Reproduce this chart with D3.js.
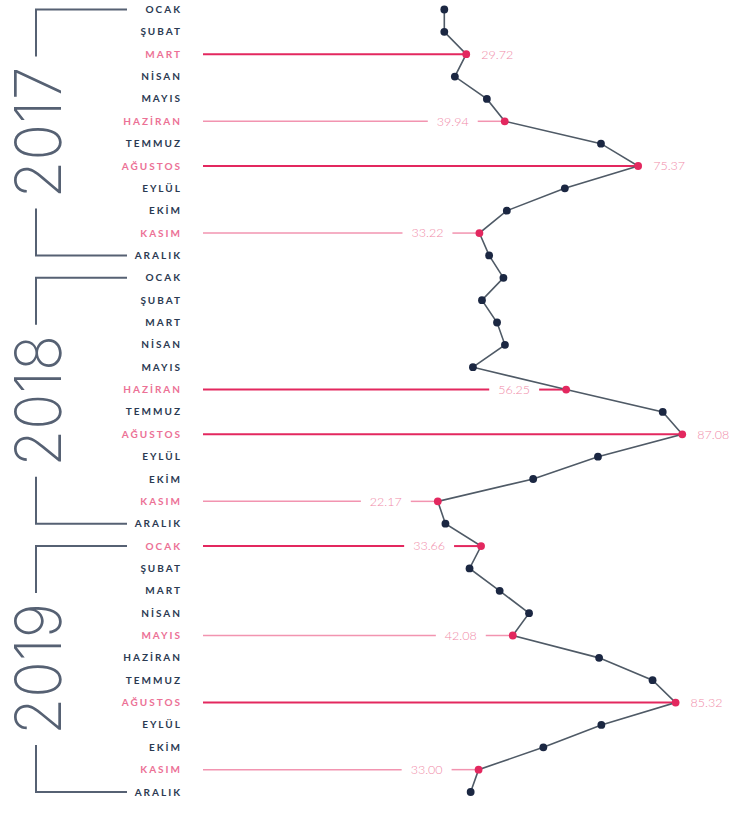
<!DOCTYPE html>
<html><head><meta charset="utf-8">
<script src="https://cdn.jsdelivr.net/npm/d3@7"></script>
<style>
html,body{margin:0;padding:0;background:#fff;}
svg{display:block;}
</style>
</head><body>
<svg id="chart" width="732" height="821"></svg>
<script>
const months = ["OCAK","ŞUBAT","MART","NİSAN","MAYIS","HAZİRAN","TEMMUZ","AĞUSTOS","EYLÜL","EKİM","KASIM","ARALIK"];
const years = ["2017","2018","2019"];
const values2017 = [23.9, 23.9, 29.72, 26.7, 35.2, 39.94, 65.5, 75.37, 55.9, 40.5, 33.22, 35.8];
const values2018 = [39.6, 33.9, 37.9, 40.0, 31.5, 56.25, 81.9, 87.08, 64.7, 47.5, 22.17, 24.2];
const values2019 = [33.66, 30.6, 38.6, 46.4, 42.08, 65.0, 79.2, 85.32, 65.6, 50.2, 33.00, 30.9];
const series = [values2017, values2018, values2019];
// highlighted months (index within year)
const highlight2017 = [2, 5, 7, 10];
const highlight2018 = [5, 7, 10];
const highlight2019 = [0, 4, 7, 10];
const highlights = [highlight2017, highlight2018, highlight2019];
// callout appearance config
const strongCallouts = ["2017-2", "2017-7", "2018-5", "2018-7", "2019-0", "2019-7"];
const rightLabelCallouts = ["2017-2", "2017-7", "2018-7", "2019-7"];

const rows = [];
years.forEach((yr, yi) => months.forEach((m, mi) => rows.push({
  key: yr + "-" + mi, year: yr, month: m, value: series[yi][mi],
  hl: highlights[yi].includes(mi), idx: yi * 12 + mi
})));

const svg = d3.select("#chart");
const NAVY = "#2b3a52", DOT = "#1b2742", LINE = "#4f5a66", BRACKET = "#566173";
const CRIMSON = "#e3285f", LIGHTPINK = "#f294b0", TEXTPINK = "#f08aa8", MONTHPINK = "#ec7196";

const x = d3.scaleLinear().domain([0, 100]).range([354.3, 730.9]);
const y = d3.scalePoint().domain(rows.map(d => d.idx)).range([9.5, 792]);

// month labels
svg.append("g").selectAll("text").data(rows).join("text")
  .attr("x", 182).attr("y", d => y(d.idx)).attr("dy", "0.35em")
  .attr("text-anchor", "end")
  .style("font-family", "Lato, 'Open Sans', sans-serif")
  .style("font-weight", 700).style("font-size", "10px").style("letter-spacing", "2px")
  .attr("fill", d => d.hl ? MONTHPINK : NAVY)
  .text(d => d.month);

// year brackets
const bx = 36, bxEnd = 127, yearLen = 132;
years.forEach((yr, yi) => {
  const y0 = y(yi * 12), y1 = y(yi * 12 + 11), yc = (y0 + y1) / 2;
  const g = svg.append("g");
  g.append("text")
    .attr("transform", `translate(${bx + 2},${yc}) rotate(-90)`)
    .attr("text-anchor", "middle").attr("dy", "0.36em")
    .attr("textLength", yearLen).attr("lengthAdjust", "spacingAndGlyphs")
    .style("font-family", "Inter, Lato, sans-serif").style("font-weight", 200)
    .style("font-size", "64px").attr("fill", BRACKET)
    .text(yr);
  const half = yearLen / 2 + 10;
  g.append("path")
    .attr("d", `M${bxEnd},${y0}H${bx}V${yc - half}M${bx},${yc + half}V${y1}H${bxEnd}`)
    .attr("fill", "none").attr("stroke", BRACKET).attr("stroke-width", 2);
});

// callouts
const leaderStart = 203;
const hlRows = rows.filter(d => d.hl);
const cg = svg.append("g");
hlRows.forEach(d => {
  const px = x(d.value), py = y(d.idx);
  const strong = strongCallouts.includes(d.key);
  const col = strong ? CRIMSON : LIGHTPINK;
  const sw = strong ? 2 : 1.5;
  const label = d3.format(".2f")(d.value);
  if (rightLabelCallouts.includes(d.key)) {
    cg.append("line").attr("x1", leaderStart).attr("x2", px).attr("y1", py).attr("y2", py)
      .attr("stroke", col).attr("stroke-width", sw);
    cg.append("text").attr("x", px + 15).attr("y", py).attr("dy", "0.35em")
      .style("font-family", "Lato, sans-serif").style("font-weight", 300).style("font-size", "12.5px")
      .attr("fill", TEXTPINK).text(label);
  } else {
    const t = cg.append("text").attr("x", px - 36).attr("y", py).attr("dy", "0.35em")
      .attr("text-anchor", "end")
      .style("font-family", "Lato, sans-serif").style("font-weight", 300).style("font-size", "12.5px")
      .attr("fill", TEXTPINK).text(label);
    const w = t.node().getComputedTextLength();
    cg.append("line").attr("x1", leaderStart).attr("x2", px - 36 - w - 9).attr("y1", py).attr("y2", py)
      .attr("stroke", col).attr("stroke-width", sw);
    cg.append("line").attr("x1", px - 27).attr("x2", px).attr("y1", py).attr("y2", py)
      .attr("stroke", col).attr("stroke-width", sw);
  }
});

// connecting line
svg.append("path").datum(rows)
  .attr("d", d3.line().x(d => x(d.value)).y(d => y(d.idx)))
  .attr("fill", "none").attr("stroke", LINE).attr("stroke-width", 1.6);

// dots
svg.append("g").selectAll("circle").data(rows).join("circle")
  .attr("cx", d => x(d.value)).attr("cy", d => y(d.idx)).attr("r", 3.9)
  .attr("fill", d => d.hl ? CRIMSON : DOT);
</script>
</body></html>
